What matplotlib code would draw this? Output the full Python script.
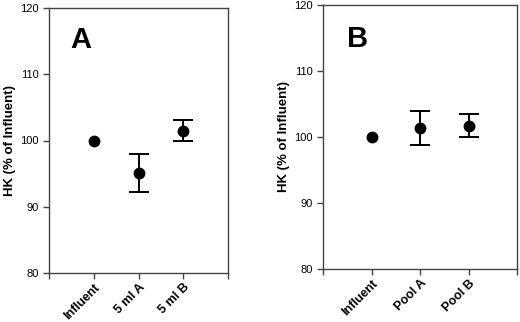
import numpy as np
import matplotlib
matplotlib.use('Agg')
import matplotlib.pyplot as plt

plt.rcParams['font.family'] = ['Liberation Sans', 'DejaVu Sans']

# Panel A data
labels_a = ['Influent', '5 ml A', '5 ml B']
mean_a = [100.0, 95.1, 101.5]
err_a = [0.0, 2.8, 1.6]

# Panel B data
labels_b = ['Influent', 'Pool A', 'Pool B']
mean_b = [100.0, 101.4, 101.7]
err_b = [0.0, 2.55, 1.75]

yticks = [80, 90, 100, 110, 120]

fig = plt.figure(figsize=(5.2, 3.22), dpi=100)

def draw_panel(rect, labels, means, errs, letter, letter_pos, ylab_x):
    ax = fig.add_axes(rect)
    x = np.arange(1, len(labels) + 1)
    errs = np.array(errs, dtype=float)
    # no error bar where the error is zero (the influent reference point)
    errs = np.where(errs > 0, errs, np.nan)
    ax.errorbar(x, means, yerr=errs, fmt='o', color='black', markersize=7.5,
                capsize=7, elinewidth=1.4, capthick=1.4)
    ax.set_xlim(0, 4)
    ax.set_ylim(80, 120)
    ax.set_xticks([0, 1, 2, 3, 4])
    ax.set_xticklabels([''] + labels + [''], rotation=45, ha='right',
                       rotation_mode='anchor', fontsize=9, fontweight='bold')
    ax.set_yticks(yticks)
    ax.set_yticklabels([str(v) for v in yticks], fontsize=8)
    ax.tick_params(direction='out', length=4, width=1, color='#444444')
    ax.tick_params(axis='x', pad=2)
    for s in ax.spines.values():
        s.set_linewidth(1.0)
        s.set_color('#444444')
    ax.set_ylabel('HK (% of Influent)', fontsize=9.5, fontweight='bold')
    ax.yaxis.set_label_coords(ylab_x, 0.5)
    ax.text(letter_pos[0], letter_pos[1], letter, transform=ax.transAxes,
            fontsize=21, fontweight='bold', va='baseline', ha='left')
    return ax

draw_panel([49 / 520, 49 / 322, 179 / 520, 265 / 322], labels_a, mean_a, err_a,
           'A', (0.117, 0.85), -0.185)
draw_panel([323 / 520, 53 / 322, 194 / 520, 264 / 322], labels_b, mean_b, err_b,
           'B', (0.124, 0.84), -0.17)

fig.savefig('out.png', dpi=100)
